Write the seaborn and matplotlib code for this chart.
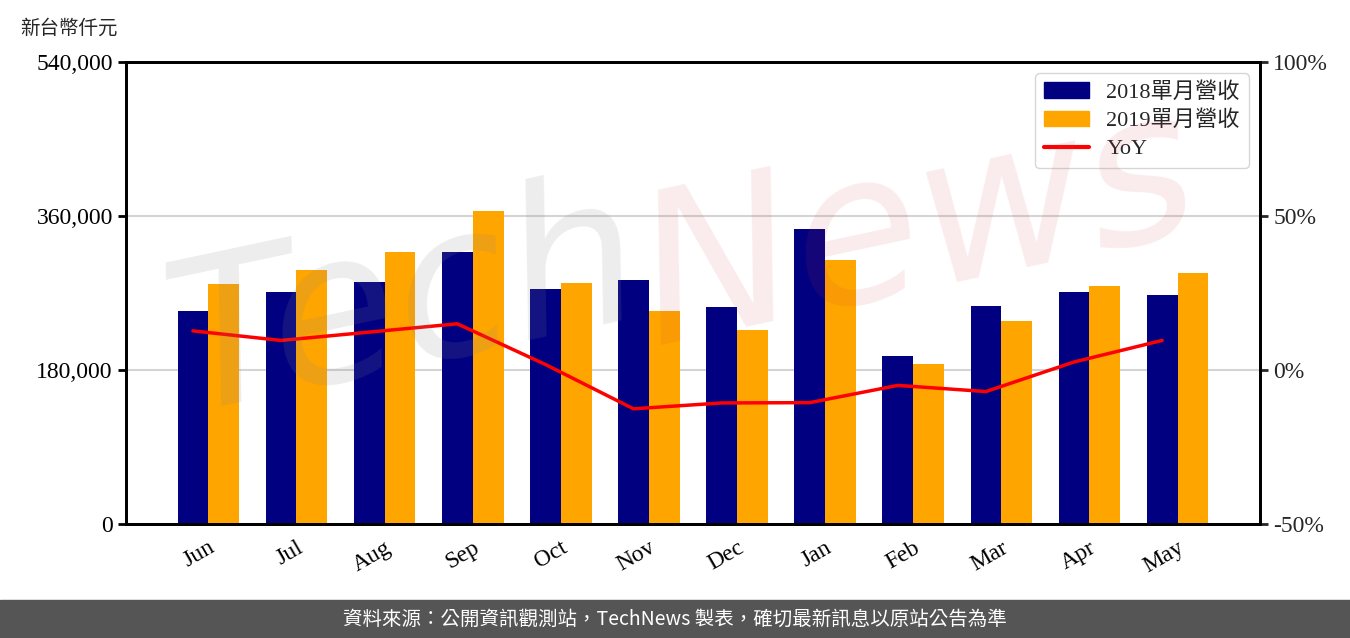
import numpy as np
import pandas as pd
import seaborn as sns
import matplotlib.pyplot as plt
from matplotlib.patches import Patch
from matplotlib.lines import Line2D

months = ['Jun', 'Jul', 'Aug', 'Sep', 'Oct', 'Nov', 'Dec', 'Jan', 'Feb', 'Mar', 'Apr', 'May']
rev_2018 = [249000, 271000, 283000, 318000, 275000, 285000, 254000, 345000, 196000, 255000, 271000, 268000]
rev_2019 = [280500, 297000, 318000, 366000, 282000, 249000, 227000, 308500, 187000, 237000, 278000, 293500]
yoy = [12.7, 9.6, 12.3, 15.0, 1.8, -12.6, -10.7, -10.6, -5.0, -7.0, 2.6, 9.6]

label_2018 = '2018單月營收'
label_2019 = '2019單月營收'

sns.set_style('white')
plt.rcParams['font.family'] = ['Liberation Serif', 'Noto Sans CJK TC']

df = pd.DataFrame({
    'month': months * 2,
    'revenue': rev_2018 + rev_2019,
    'year': [label_2018] * 12 + [label_2019] * 12,
})

fig = plt.figure(figsize=(13.5, 6.38), dpi=100)
ax = fig.add_axes([0.0933, 0.1787, 0.84, 0.7241])

sns.barplot(data=df, x='month', y='revenue', hue='year', palette=['#000080', '#ffa500'],
            width=0.7, saturation=1, ax=ax, legend=False, zorder=2,
            linewidth=0, edgecolor='none')
ax.set_xlim(-0.935, 11.935)
ax.set_ylim(0, 540000)
ax.set_yticks([0, 180000, 360000, 540000])
ax.set_yticklabels([f'{v:,}' for v in [0, 180000, 360000, 540000]], fontsize=17)
ax.set_xlabel('')
ax.set_ylabel('')
ax.set_xticks(range(12))
ax.set_xticklabels(months, rotation=30, ha='right', rotation_mode='anchor', fontsize=17)
ax.grid(axis='y', color='#d4d4d4', lw=1.5, zorder=0)
ax.set_axisbelow(True)
ax.tick_params(axis='both', direction='out', length=6, width=2, colors='black')

ax2 = ax.twinx()
ax2.plot(np.arange(12) - 0.175, yoy, color='red', lw=2.5, zorder=3)
ax2.set_ylim(-50, 100)
ax2.set_yticks([-50, 0, 50, 100])
ax2.set_yticklabels([f'{v}%' for v in [-50, 0, 50, 100]], fontsize=17)
ax2.tick_params(axis='y', direction='out', length=6, width=2)

for a in (ax, ax2):
    for s in a.spines.values():
        s.set_linewidth(2)
        s.set_color('black')
        s.set_visible(True)

# watermark
fig.text(0.30, 0.52, 'Tech', fontsize=150, color='#888888', alpha=0.15, rotation=12,
         ha='center', va='center', family='DejaVu Sans', style='italic')
fig.text(0.68, 0.64, 'News', fontsize=150, color='#d04040', alpha=0.1, rotation=12,
         ha='center', va='center', family='DejaVu Sans', style='italic')

handles = [Patch(color='#000080', label=label_2018),
           Patch(color='#ffa500', label=label_2019),
           Line2D([0], [0], color='red', lw=3, label='YoY')]
ax2.legend(handles=handles, loc='upper right', fontsize=16, frameon=True,
           edgecolor='#cccccc', handlelength=2, borderaxespad=0.5, labelspacing=0.35)

fig.text(0.0148, 0.956, '新台幣仟元', fontsize=14, va='center', ha='left')

fig.patches.append(plt.Rectangle((0, 0), 1, 0.0596, transform=fig.transFigure,
                                 color='#555555', zorder=0))
fig.text(0.5, 0.0298, '資料來源：公開資訊觀測站，TechNews 製表，確切最新訊息以原站公告為準',
         color='white', fontsize=14, ha='center', va='center', family='Noto Sans CJK TC')

fig.savefig('out.png', dpi=100)
